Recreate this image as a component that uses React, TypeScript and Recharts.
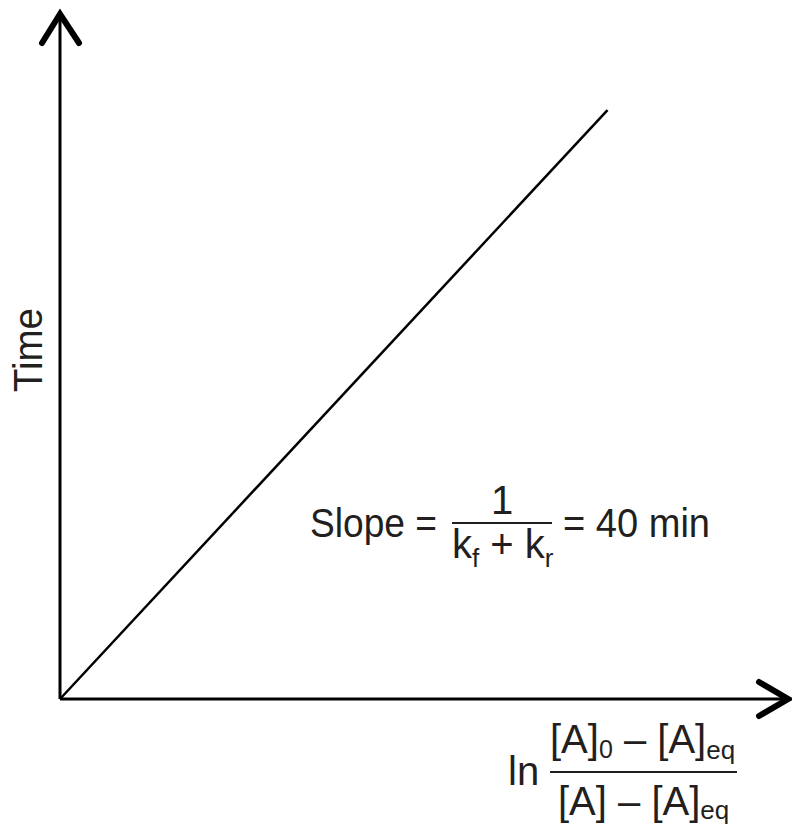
import React from 'react';
import { LineChart, Line, XAxis, YAxis, ReferenceLine, ReferenceDot } from 'recharts';

// ln-ratio values on x, time (min) on y, slope 40 min
const xValues = [0, 0.75];
const timeValues = [0, 30];
const xDomain = [0, 1];
const yDomain = [0, 35];

const data = xValues.map((x, i) => ({ x, t: timeValues[i] }));

const INK = '#231f20';
const FONT = '"Liberation Sans", Arial, sans-serif';

const UpArrow = (props: any) => {
  const { cx, cy } = props;
  return (
    <path
      d={`M${cx - 18},${cy + 31} L${cx},${cy + 2} L${cx + 19},${cy + 31}`}
      fill="none"
      stroke="#000"
      strokeWidth={6}
      strokeLinecap="round"
      strokeLinejoin="miter"
    />
  );
};

const RightArrow = (props: any) => {
  const { cx, cy } = props;
  return (
    <path
      d={`M${cx - 31},${cy - 17} L${cx - 2},${cy} L${cx - 31},${cy + 17}`}
      fill="none"
      stroke="#000"
      strokeWidth={6}
      strokeLinecap="round"
      strokeLinejoin="miter"
    />
  );
};

export default function App() {
  return (
    <div style={{ position: 'absolute', left: 0, top: 0, width: 792, height: 826, background: '#fff' }}>
      <LineChart
        width={792}
        height={826}
        data={data}
        margin={{ top: 12, right: 2, bottom: 127, left: 60 }}
      >
        <XAxis type="number" dataKey="x" domain={xDomain} hide />
        <YAxis type="number" domain={yDomain} hide />
        <ReferenceLine y={0} stroke="#000" strokeWidth={3} />
        <ReferenceLine x={0} stroke="#000" strokeWidth={3} />
        <ReferenceDot x={xDomain[0]} y={yDomain[1]} r={0} shape={UpArrow} />
        <ReferenceDot x={xDomain[1]} y={yDomain[0]} r={0} shape={RightArrow} />
        <Line
          type="linear"
          dataKey="t"
          stroke="#000"
          strokeWidth={2.5}
          dot={false}
          isAnimationActive={false}
        />
      </LineChart>
      <svg
        width={792}
        height={826}
        style={{ position: 'absolute', left: 0, top: 0, pointerEvents: 'none' }}
        fontFamily={FONT}
        fill={INK}
      >
        <text
          x={42}
          y={350}
          fontSize={40}
          textAnchor="middle"
          transform="rotate(-90, 42, 350)"
          textLength={84}
          lengthAdjust="spacingAndGlyphs"
        >
          Time
        </text>

        {/* slope annotation */}
        <text x={310} y={537} fontSize={40} textLength={127} lengthAdjust="spacingAndGlyphs">
          Slope =
        </text>
        <text x={502} y={514} fontSize={40} textAnchor="middle">1</text>
        <line x1={452} y1={523} x2={552} y2={523} stroke={INK} strokeWidth={2} />
        <text x={452} y={558} fontSize={40}>
          k<tspan dy={9} fontSize={26}>f</tspan>
          <tspan dy={-9}> + k</tspan>
          <tspan dy={9} fontSize={26}>r</tspan>
        </text>
        <text x={563} y={537} fontSize={40} textLength={147} lengthAdjust="spacingAndGlyphs">
          = 40 min
        </text>

        {/* x axis label */}
        <text x={508} y={785} fontSize={40}>ln</text>
        <line x1={550} y1={772} x2={737} y2={772} stroke={INK} strokeWidth={2} />
        <text x={550} y={753} fontSize={40}>
          [A]<tspan dy={5} fontSize={25}>0</tspan>
          <tspan dy={-5}> – [A]</tspan>
          <tspan dy={6} fontSize={26}>eq</tspan>
        </text>
        <text x={558} y={815} fontSize={40}>
          [A] – [A]<tspan dy={4} fontSize={26}>eq</tspan>
        </text>
      </svg>
    </div>
  );
}
